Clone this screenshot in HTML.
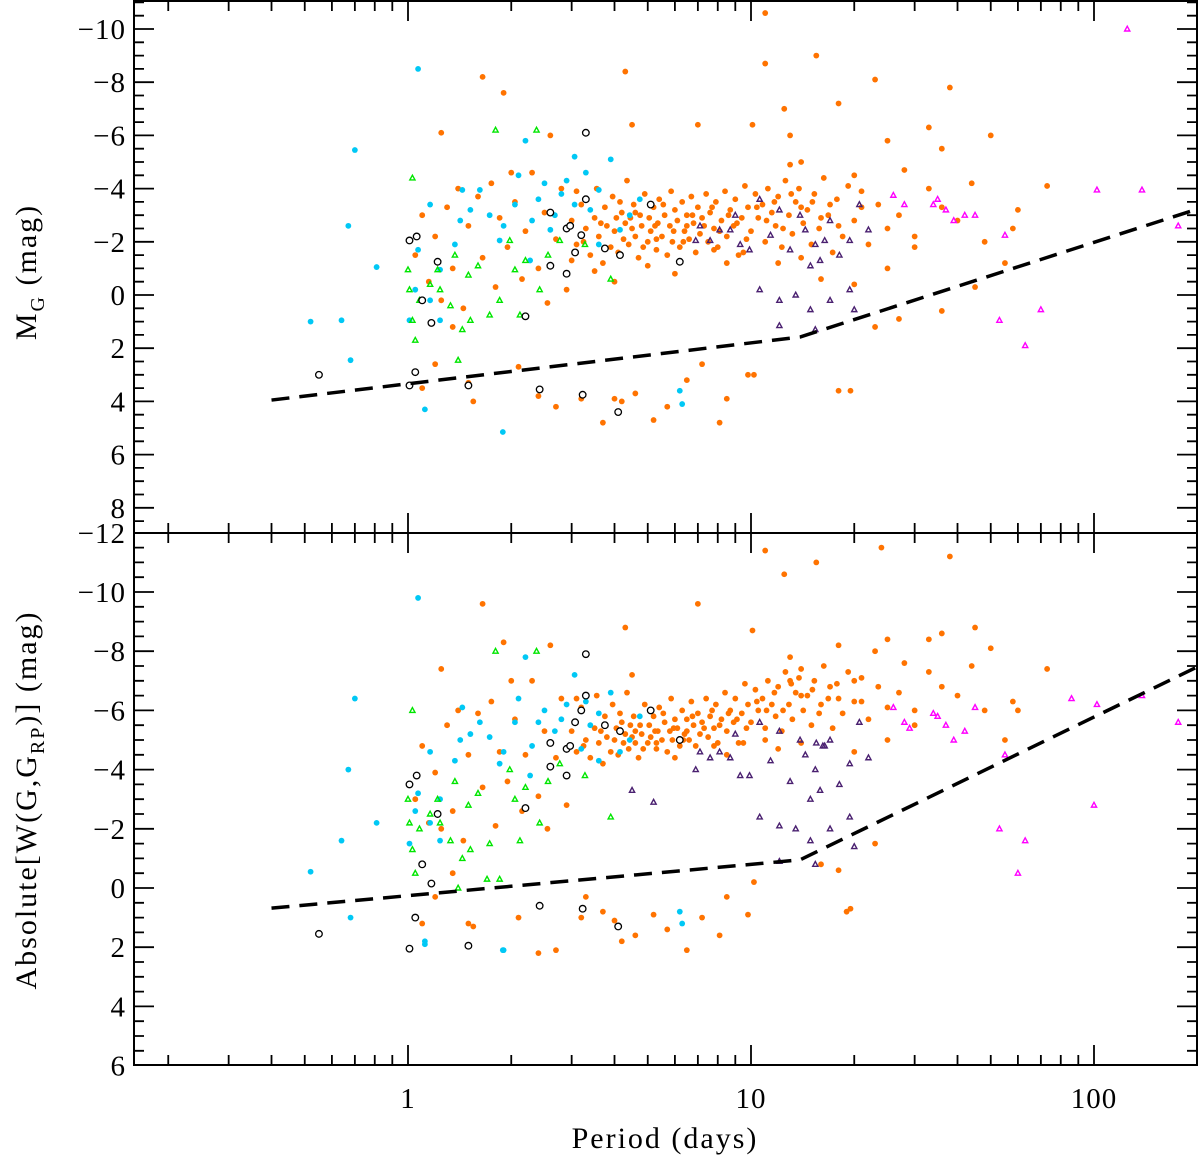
<!DOCTYPE html>
<html><head><meta charset="utf-8"><style>
html,body{margin:0;padding:0;background:#fff;}
svg{display:block;font-family:"Liberation Serif","DejaVu Serif",serif;}
</style></head><body>
<svg id="chart" width="1200" height="1160" viewBox="0 0 1200 1160" xmlns="http://www.w3.org/2000/svg">
<g id="frame"></g>
<g id="topMarks"></g>
<g id="botMarks"></g>
<text transform="translate(36,272) rotate(-90)" text-anchor="middle" font-size="30" letter-spacing="2">M<tspan font-size="20" dy="8">G</tspan><tspan dy="-8"> (mag)</tspan></text>
<text transform="translate(36,800) rotate(-90)" text-anchor="middle" font-size="30" letter-spacing="2">Absolute[W(G,G<tspan font-size="20" dy="8">RP</tspan><tspan dy="-8">)] (mag)</tspan></text>
<text x="665" y="1148" text-anchor="middle" font-size="30" letter-spacing="2">Period (days)</text>
</svg>
<script>
const topTicks=[-10,-8,-6,-4,-2,0,2,4,6,8];
const botTicks=[-12,-10,-8,-6,-4,-2,0,2,4,6];
const xTickLabels=[1,10,100];
const topLineP=[0.40,13.9,200];
const topLineM=[3.95,1.58,-3.23];
const botLineP=[0.40,13.9,200];
const botLineM=[0.68,-0.95,-7.47];

const topCyan=[[0.64,0.95],[0.70,-5.45],[0.67,-2.6],[0.68,2.45],[0.81,-1.05],[1.07,-8.5],[1.12,4.3],[1.89,5.15],[1.16,-3.4],[1.07,-1.7],[1.24,-0.95],[1.42,-2.8],[1.62,-3.95],[1.85,-2.05],[2.1,-4.5],[2.2,-5.8],[2.4,-3.6],[2.6,-2.45],[2.9,-4.3],[3.06,-5.2],[3.4,-3.2],[3.6,-3.95],[3.9,-5.1],[4.15,-2.45],[3.6,-1.9],[2.27,-1.3],[1.52,-3.2],[1.37,-1.9],[6.2,3.6],[6.3,4.1],[1.01,0.95],[1.05,-0.2],[1.16,0.2],[1.24,0.95],[3.06,-3.4],[2.68,-3.0],[2.05,-3.4],[1.73,-3.0],[4.43,-3.0],[4.74,-3.6],[3.2,-2.25],[2.5,-4.2],[1.44,-3.95],[0.52,1.0],[2.8,-3.8],[3.3,-4.6],[2.3,-2.8],[1.9,-2.6]];
const topGreen=[[1.03,-4.4],[1.0,-0.95],[1.01,-0.2],[1.03,0.95],[1.05,1.7],[1.08,0.2],[1.16,-0.4],[1.24,-0.2],[1.33,0.4],[1.4,2.45],[1.44,1.3],[1.5,-0.75],[1.6,-1.1],[1.8,-6.2],[1.85,0.2],[1.98,-2.05],[2.05,-0.95],[2.2,-1.3],[2.37,-6.2],[2.42,-0.2],[2.56,-1.5],[2.77,-2.05],[3.28,-1.9],[3.9,-0.6],[1.52,0.95],[1.73,0.75],[2.12,0.75],[1.37,-1.5],[1.22,-0.95]];
const topPurple=[[6.9,-2.05],[7.6,-2.05],[8.1,-2.45],[9.0,-3.0],[9.3,-1.9],[10.6,-3.6],[11.4,-2.25],[12.1,-3.2],[13,-1.7],[13.9,-3.0],[14.4,-2.45],[14.9,-1.1],[15.4,-1.9],[15.9,-1.3],[16.4,-2.05],[17,-2.8],[18.1,-1.5],[19.4,-2.05],[20.7,-3.4],[22,-2.45],[10.6,-0.2],[13.5,0],[14.9,0.55],[12.1,0.2],[17,0.2],[19.4,-0.2],[20,0.55],[12.1,1.15],[15.4,1.3],[9.9,-1.7],[8.7,-2.45],[7.1,-2.6]];
const topMagenta=[[26,-3.75],[28,-3.4],[34,-3.4],[37,-3.2],[35,-3.6],[39,-2.8],[42,-3.0],[55,-2.25],[53,0.95],[63,1.9],[70,0.55],[102,-3.95],[125,-10],[138,-3.95],[176,-2.6],[45,-3.0]];
const topBlack=[[0.55,3.0],[1.01,3.4],[1.05,2.9],[1.01,-2.05],[1.06,-2.2],[1.22,-1.25],[1.1,0.2],[1.17,1.05],[1.5,3.4],[2.42,3.55],[3.3,-6.1],[2.6,-3.1],[2.9,-2.5],[2.97,-2.6],[3.2,-2.25],[3.3,-3.6],[3.07,-1.6],[3.75,-1.75],[4.15,-1.5],[5.1,-3.4],[6.2,-1.25],[2.6,-1.1],[2.9,-0.8],[2.2,0.8],[3.23,3.75],[4.1,4.4]];
const topOrange=[[1.25,-6.1],[1.65,-8.2],[1.9,-7.6],[2.0,-4.6],[2.6,-6.0],[3.1,-3.9],[4.3,-8.4],[4.5,-6.4],[7.0,-6.4],[10.1,-6.4],[11,-8.7],[12.5,-7.0],[13,-6.0],[11,-10.6],[15.5,-9.0],[18,-7.2],[23,-8.1],[25,-5.8],[33,-6.3],[38,-7.8],[36,-5.5],[50,-6.0],[60,-3.2],[73,-4.1],[13,-4.9],[14,-5.0],[20,-4.5],[28,-4.7],[21,-3.3],
[1.1,3.5],[1.2,2.6],[1.35,1.2],[1.5,3.3],[1.55,4.0],[2.1,2.7],[2.4,3.8],[2.7,4.2],[3.2,3.9],[3.7,4.8],[4.0,3.9],[4.2,4.0],[4.6,3.7],[5.2,4.7],[5.7,4.2],[6.5,3.2],[7.2,2.6],[8.1,4.8],[8.5,3.9],[9.8,3.0],[10.2,3.0],[18,3.6],[19.5,3.6],[23,1.2],[27,0.9],[36,0.6],[45,-0.3],
[1.05,-1.5],[1.1,-3.0],[1.15,-0.5],[1.2,-2.2],[1.25,0.2],[1.3,-3.3],[1.35,-1.0],[1.4,-4.0],[1.45,0.5],[1.5,-2.6],[1.6,-3.7],[1.65,-1.4],[1.75,-4.2],[1.8,-0.3],[1.85,-2.9],[1.95,-1.8],[2.05,-3.5],[2.15,-0.6],[2.2,-2.4],[2.3,-4.6],[2.4,-1.0],[2.5,-3.1],[2.55,0.3],[2.7,-2.1],[2.8,-4.0],[2.9,-0.2],
[3.0,-2.8],[3.1,-1.9],[3.2,-3.4],[3.3,-2.5],[3.4,-1.5],[3.5,-2.9],[3.55,-4.0],[3.6,-2.2],[3.7,-1.2],[3.75,-3.3],[3.8,-2.6],[3.9,-1.8],[3.95,-3.7],[4.0,-2.4],[4.05,-2.9],[4.1,-1.6],[4.2,-3.1],[4.25,-2.1],[4.3,-2.7],[4.35,-4.3],[4.4,-1.9],[4.5,-2.5],[4.55,-3.4],[4.6,-2.2],[4.7,-1.4],[4.75,-3.0],[4.8,-2.6],[4.9,-3.8],[5.0,-2.0],[5.05,-2.9],[5.1,-2.4],[5.2,-3.3],[5.3,-1.7],[5.35,-2.7],[5.4,-3.6],[5.5,-2.2],[5.6,-3.0],[5.7,-1.5],[5.8,-2.6],[5.85,-3.9],[5.9,-2.0],[6.0,-3.2],[6.1,-2.8],[6.2,-1.8],[6.3,-3.5],[6.4,-2.4],[6.5,-3.0],[6.6,-2.1],[6.7,-3.7],[6.8,-2.7],[6.9,-1.6],[7.0,-3.3],[7.1,-2.3],[7.2,-2.9],[7.4,-3.8],[7.5,-2.0],[7.6,-3.1],[7.8,-2.5],[7.9,-3.5],[8.0,-1.8],[8.2,-2.8],[8.4,-3.9],[8.5,-2.2],[8.7,-3.2],[8.9,-2.6],[9.0,-3.6],[9.2,-1.5],[9.4,-2.9],[9.6,-4.1],[9.8,-3.3],[10.0,-2.4],[10.3,-3.8],[10.5,-2.9],[10.8,-3.4],[11.0,-2.0],[11.2,-4.0],[11.5,-3.1],[11.8,-2.6],[12.0,-3.7],[12.3,-1.8],[12.6,-4.3],[12.9,-3.0],[13.2,-2.3],[13.5,-3.5],[13.8,-4.0],[14.2,-2.7],[14.6,-3.2],[15.0,-1.9],[15.3,-3.8],[15.8,-2.5],[16.3,-4.4],[16.8,-3.0],[17.3,-1.6],[17.8,-3.6],[18.5,-2.2],[19.2,-4.1],[20,-2.8],[21,-3.9],[22,-1.9],[23.5,-3.4],[25,-2.5],[27,-3.0],[30,-2.2],[33,-4.0],[36,-3.3],[40,-2.8],[44,-4.2],[48,-2.0],[55,-1.2],[58,-2.5],[20,-0.4],[25,-1.0],[16,-0.6],[12,-1.2],[8.5,-1.2],[6.0,-0.8],[5.0,-1.1],[4.0,-0.5],[3.5,-0.9],[3.0,-1.3],[9.5,-1.6],[14,-1.4],[30,-1.8],
[3.25,-2.0],[3.65,-2.7],[4.15,-3.5],[4.45,-2.9],[4.85,-1.8],[5.25,-2.6],[5.55,-3.4],[5.95,-2.4],[6.35,-2.0],[6.75,-3.0],[7.3,-2.6],[7.7,-3.3],[8.1,-2.4],[8.6,-3.0],[9.1,-2.7],[9.7,-2.1],[10.4,-3.3],[11.1,-2.8],[11.7,-3.5],[12.4,-2.5],[13.1,-3.8],[14.0,-3.3],[15.1,-3.5],[16.0,-2.9],[17.0,-3.4],[18.0,-2.6],[4.6,-3.1],[5.3,-2.1],[6.5,-2.6],[7.8,-1.7]];

const botCyan=[[0.64,-1.6],[0.70,-6.4],[0.67,-4.0],[0.68,1.0],[0.81,-2.2],[1.07,-9.8],[1.12,1.8],[1.89,2.1],[1.16,-4.6],[1.07,-3.2],[1.24,-3.0],[1.42,-5.0],[1.62,-5.6],[1.85,-4.2],[2.1,-6.4],[2.2,-7.8],[2.4,-5.6],[2.6,-4.9],[2.9,-6.2],[3.06,-7.2],[3.4,-5.5],[3.6,-5.9],[3.9,-6.6],[4.15,-4.6],[3.6,-4.3],[2.27,-3.8],[1.52,-5.2],[1.37,-4.3],[6.2,0.8],[6.3,1.2],[1.01,-1.5],[1.05,-2.6],[1.16,-2.2],[1.24,-1.6],[3.06,-5.6],[2.68,-5.3],[2.05,-5.6],[1.73,-5.1],[4.43,-5.0],[4.74,-5.8],[3.2,-4.7],[2.5,-6.0],[1.44,-6.1],[0.52,-0.55],[1.12,1.9],[1.9,2.1],[2.8,-5.7],[3.3,-6.3],[2.3,-4.8],[1.9,-4.6]];
const botGreen=[[1.03,-6.0],[1.0,-3.0],[1.01,-2.2],[1.03,-1.3],[1.05,-0.5],[1.08,-2.0],[1.16,-2.5],[1.24,-2.2],[1.33,-1.6],[1.4,0.0],[1.44,-1.0],[1.5,-2.8],[1.6,-3.2],[1.8,-8.0],[1.85,-0.3],[1.98,-4.0],[2.05,-3.0],[2.2,-3.4],[2.37,-8.0],[2.42,-2.2],[2.56,-3.6],[2.77,-4.2],[3.28,-3.8],[3.9,-2.4],[1.52,-1.3],[1.73,-1.5],[2.12,-1.6],[1.37,-3.6],[1.22,-3.0],[1.7,-0.3]];
const botPurple=[[6.9,-4.0],[7.6,-4.4],[8.1,-4.6],[9.0,-5.2],[9.3,-3.8],[10.6,-5.6],[11.4,-4.3],[12.1,-5.3],[13,-3.6],[13.9,-5.0],[14.4,-4.5],[14.9,-3.0],[15.4,-4.0],[15.9,-3.3],[16.4,-4.8],[17,-5.0],[18.1,-3.5],[19.4,-4.2],[20.7,-5.6],[22,-4.4],[10.6,-2.4],[13.5,-2.0],[14.9,-1.6],[12.1,-2.1],[17,-2.0],[19.4,-2.4],[20,-1.4],[12.1,-0.9],[15.4,-0.8],[9.9,-3.8],[8.7,-4.4],[7.1,-4.6],[4.5,-3.3],[5.2,-2.9],[15.5,-4.9],[16.2,-4.8]];
const botMagenta=[[26,-6.1],[28,-5.6],[34,-5.9],[37,-5.5],[35,-5.8],[39,-5.0],[42,-5.3],[55,-4.5],[53,-2.0],[63,-1.6],[60,-0.5],[86,-6.4],[100,-2.8],[102,-6.2],[138,-6.5],[176,-5.6],[45,-6.1],[29,-5.4]];
const botBlack=[[0.55,1.55],[1.01,2.05],[1.05,1.0],[1.01,-3.5],[1.06,-3.8],[1.22,-2.5],[1.1,-0.8],[1.17,-0.15],[1.5,1.95],[2.42,0.6],[3.3,-7.9],[2.6,-4.9],[2.9,-4.7],[2.97,-4.8],[3.2,-6.0],[3.3,-6.5],[3.07,-5.6],[3.75,-5.5],[4.15,-5.3],[5.1,-6.0],[6.2,-5.0],[2.6,-4.1],[2.9,-3.8],[2.2,-2.7],[3.23,0.7],[4.1,1.3]];
const botOrange=[[1.25,-7.4],[1.65,-9.6],[1.9,-8.3],[2.0,-7.0],[2.6,-8.2],[3.1,-6.4],[4.3,-8.8],[4.5,-7.2],[7.0,-9.6],[10.1,-8.7],[11,-11.4],[12.5,-10.6],[13,-7.8],[15.5,-11.0],[18,-8.2],[23,-8.0],[24,-11.5],[25,-8.4],[33,-8.4],[38,-11.2],[36,-8.6],[45,-8.8],[50,-8.1],[60,-6.0],[73,-7.4],[13,-7.0],[14,-7.4],[20,-7.0],[28,-7.6],[21,-6.3],
[1.1,1.2],[1.2,0.3],[1.35,-0.5],[1.5,1.2],[1.55,1.3],[2.1,1.0],[2.4,2.2],[2.7,2.1],[3.2,1.0],[3.7,0.8],[4.0,1.1],[4.2,1.8],[4.6,1.6],[5.2,0.9],[5.7,1.4],[6.5,2.1],[7.2,1.0],[8.1,1.6],[8.5,0.3],[9.8,0.9],[10.2,-0.2],[18,-0.6],[19.5,0.7],[23,-1.5],[16,-0.8],[3.3,0.3],
[1.05,-3.0],[1.1,-4.8],[1.15,-2.2],[1.2,-3.9],[1.25,-2.0],[1.3,-5.5],[1.35,-2.6],[1.4,-6.0],[1.45,-1.6],[1.5,-4.5],[1.6,-5.9],[1.65,-3.4],[1.75,-6.3],[1.8,-2.1],[1.85,-4.6],[1.95,-3.6],[2.05,-5.7],[2.15,-2.6],[2.2,-4.5],[2.3,-7.0],[2.4,-3.1],[2.5,-5.3],[2.55,-2.0],[2.7,-4.4],[2.8,-6.4],[2.9,-2.8],
[3.0,-5.3],[3.1,-4.6],[3.2,-6.1],[3.3,-5.0],[3.4,-4.4],[3.5,-5.4],[3.55,-6.5],[3.6,-4.9],[3.7,-4.2],[3.75,-5.8],[3.8,-5.1],[3.9,-4.6],[3.95,-6.2],[4.0,-5.0],[4.05,-5.4],[4.1,-4.5],[4.2,-5.6],[4.25,-4.9],[4.3,-5.2],[4.35,-6.6],[4.4,-4.7],[4.5,-5.1],[4.55,-5.8],[4.6,-4.9],[4.7,-4.4],[4.75,-5.5],[4.8,-5.2],[4.9,-6.2],[5.0,-4.9],[5.05,-5.5],[5.1,-5.1],[5.2,-5.8],[5.3,-4.7],[5.35,-5.3],[5.4,-6.1],[5.5,-5.0],[5.6,-5.6],[5.7,-4.6],[5.8,-5.3],[5.85,-6.4],[5.9,-5.0],[6.0,-5.7],[6.1,-5.4],[6.2,-4.8],[6.3,-6.0],[6.4,-5.2],[6.5,-5.7],[6.6,-5.0],[6.7,-6.3],[6.8,-5.5],[6.9,-4.8],[7.0,-5.9],[7.1,-5.2],[7.2,-5.6],[7.4,-6.4],[7.5,-5.1],[7.6,-5.8],[7.8,-5.4],[7.9,-6.2],[8.0,-4.9],[8.2,-5.7],[8.4,-6.6],[8.5,-5.3],[8.7,-6.0],[8.9,-5.6],[9.0,-6.4],[9.2,-4.9],[9.4,-5.9],[9.6,-6.9],[9.8,-6.2],[10.0,-5.6],[10.3,-6.7],[10.5,-6.0],[10.8,-6.4],[11.0,-5.4],[11.2,-7.0],[11.5,-6.2],[11.8,-5.8],[12.0,-6.8],[12.3,-5.3],[12.6,-7.3],[12.9,-6.2],[13.2,-5.7],[13.5,-6.6],[13.8,-7.1],[14.2,-6.0],[14.6,-6.5],[15.0,-5.5],[15.3,-7.0],[15.8,-5.9],[16.3,-7.5],[16.8,-6.4],[17.3,-5.4],[17.8,-6.9],[18.5,-5.9],[19.2,-7.3],[20,-6.3],[21,-7.1],[22,-5.7],[23.5,-6.8],[25,-6.1],[27,-6.6],[30,-6.0],[33,-7.3],[36,-6.8],[40,-6.5],[44,-7.5],[48,-6.0],[55,-5.0],[58,-6.3],[20,-4.6],[25,-5.0],[12,-4.7],[8.5,-4.5],[6.0,-4.4],[9.5,-4.9],[14,-4.9],[30,-5.5],[19,0.8],[11,-5.0],
[3.25,-4.8],[3.65,-5.3],[4.15,-5.9],[4.45,-5.5],[4.85,-4.7],[5.25,-5.3],[5.55,-5.9],[5.95,-5.4],[6.35,-5.0],[6.75,-5.8],[7.3,-5.4],[7.7,-6.0],[8.1,-5.5],[8.6,-5.9],[9.1,-5.7],[9.7,-5.4],[10.4,-6.3],[11.1,-6.0],[11.7,-6.6],[12.4,-6.0],[13.1,-6.9],[14.0,-6.5],[15.1,-6.7],[16.0,-6.2],[17.0,-6.8],[18.0,-6.4],[4.6,-5.3],[5.3,-4.9],[6.5,-5.3],[7.8,-4.8]];

const X0=408, DEC=343, L=134, R=1197, T=1, MID=533, B=1065;
function xs(p){return X0+DEC*Math.log10(p);}
function yT(m){return 29+(m+10)*26.6;}
function yB(m){return 592+(m+10)*29.6;}
const NS="http://www.w3.org/2000/svg";
function mk(tag,attrs,parent){const e=document.createElementNS(NS,tag);for(const k in attrs)e.setAttribute(k,attrs[k]);parent.appendChild(e);return e;}

const frame=document.getElementById('frame');
const fr=mk('rect',{x:L,y:T,width:R-L,height:B-T,fill:'none',stroke:'#000','stroke-width':2},frame);


const ml=mk('line',{x1:L,x2:R,y1:MID,y2:MID,stroke:'#000','stroke-width':2},frame);



let tk='';
for(let d=-1;d<=2;d++){for(let k=1;k<=9;k++){const p=k*Math.pow(10,d);const x=xs(p);if(x<=L+1||x>=R-1)continue;const len=k===1?20:10;
tk+=`M${x} ${B}v${-len}M${x} ${MID}v${-len}M${x} ${MID}v${len}M${x} ${T}v${len}`;}}
for(let m=-11;m<=9;m+=0.5){const y=yT(m);if(y<=T+1||y>=MID-1)continue;const len=(m%2===0)?20:10;tk+=`M${L} ${y}h${len}M${R} ${y}h${-len}`;}
for(let m=-12;m<=6;m+=0.5){const y=yB(m);if(y<=MID+1||y>=B-1)continue;const len=(m%2===0)?20:10;tk+=`M${L} ${y}h${len}M${R} ${y}h${-len}`;}
const tp=mk('path',{d:tk,stroke:'#000','stroke-width':1.8,fill:'none'},frame);



function lab(txt,x,y,anchor,name){const t=mk('text',{x:x,y:y,'text-anchor':anchor,'font-size':29,'letter-spacing':1},frame);t.textContent=txt;

}
topTicks.forEach(v=>lab((v<0?'\u2212':'')+Math.abs(v),126,yT(v)+10,'end','top-y-tick-label'));
botTicks.forEach(v=>lab((v<0?'\u2212':'')+Math.abs(v),126,yB(v)+10,'end','bottom-y-tick-label'));
xTickLabels.forEach(v=>lab(String(v),xs(v),1108,'middle','x-tick-label'));

function dash(P,M,yf,g,name){let d='';P.forEach((p,i)=>{d+=(i?'L':'M')+xs(p)+' '+yf(M[i]);});
const e=mk('path',{d:d,stroke:'#000','stroke-width':3.5,fill:'none','stroke-dasharray':'18 10'},g);

}

function dots(arr,yf,g,color,name){arr.forEach(([p,m])=>{const e=mk('circle',{cx:xs(p),cy:yf(m),r:2.9,fill:color},g);

});}
function tris(arr,yf,g,color,name){arr.forEach(([p,m])=>{const x=xs(p),y=yf(m);const e=mk('path',{d:`M${x} ${y-2.8}L${x+2.6} ${y+2}L${x-2.6} ${y+2}Z`,fill:'none',stroke:color,'stroke-width':1.4},g);

});}
function rings(arr,yf,g,name){arr.forEach(([p,m])=>{const e=mk('circle',{cx:xs(p),cy:yf(m),r:3.3,fill:'#fff',stroke:'#000','stroke-width':1.3},g);

});}

const gT=document.getElementById('topMarks'), gB=document.getElementById('botMarks');
dots(topOrange,yT,gT,'#ff7300','top-orange-point');
dots(topCyan,yT,gT,'#00c8f5','top-cyan-point');
tris(topGreen,yT,gT,'#00e600','top-green-triangle');
tris(topPurple,yT,gT,'#4a2070','top-purple-triangle');
tris(topMagenta,yT,gT,'#ff00ff','top-magenta-triangle');
rings(topBlack,yT,gT,'top-black-circle');
dash(topLineP,topLineM,yT,gT,'top-dashed-limit-line');

dots(botOrange,yB,gB,'#ff7300','bottom-orange-point');
dots(botCyan,yB,gB,'#00c8f5','bottom-cyan-point');
tris(botGreen,yB,gB,'#00e600','bottom-green-triangle');
tris(botPurple,yB,gB,'#4a2070','bottom-purple-triangle');
tris(botMagenta,yB,gB,'#ff00ff','bottom-magenta-triangle');
rings(botBlack,yB,gB,'bottom-black-circle');
dash(botLineP,botLineM,yB,gB,'bottom-dashed-limit-line');
</script>
</body></html>
